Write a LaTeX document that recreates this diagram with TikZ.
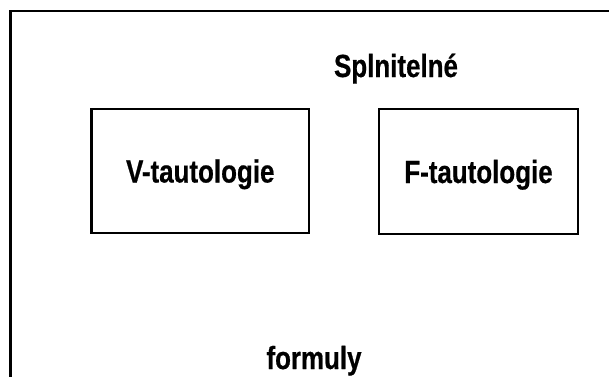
\documentclass[tikz,border=0pt]{standalone}
\usepackage{fontspec}
\setmainfont{Liberation Sans}[FakeStretch=0.81,FakeBold=0.6]
\begin{document}
\begin{tikzpicture}[x=1pt,y=1pt,
  lbl/.style={font=\bfseries\fontsize{32}{36}\selectfont, inner sep=0pt},
  tbox/.style={draw, line width=2.4pt, lbl, text height=23pt, text depth=0pt, inner sep=0pt}]
\useasboundingbox (0,0) rectangle (609,376);
\coordinate (ob) at (10.5,-5);
\coordinate (ot) at (10.5,365);
\coordinate (or) at (615,365);
\draw[line width=2.4pt] (ob) -- (ot) -- (or);
\node[tbox, minimum width=217.5pt, minimum height=124pt] (v) at (200.25,205) {V-tautologie};
\node[tbox, minimum width=199pt, minimum height=125pt] (f) at (478.5,204.5) {F-tautologie};
\node[lbl, anchor=base] (s) at (396,299) {Splnitelné};
\node[lbl, anchor=base] (fm) at (314,7) {formuly};
\end{tikzpicture}
\end{document}
